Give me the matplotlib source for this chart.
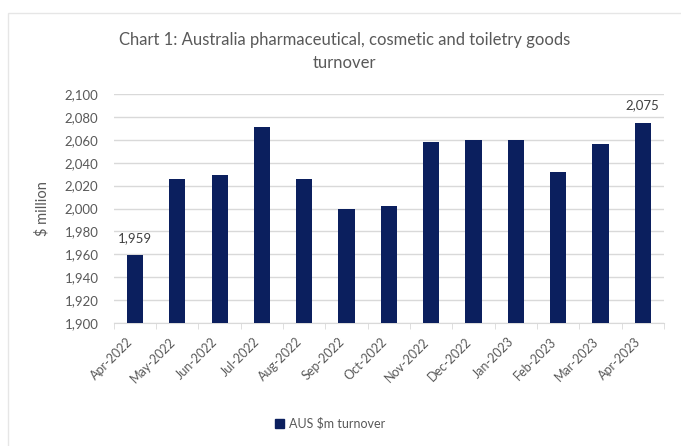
import numpy as np
import matplotlib.pyplot as plt
from matplotlib.ticker import FuncFormatter, FixedLocator
from matplotlib.patches import Rectangle
from matplotlib.transforms import ScaledTranslation

months = ['Apr-2022', 'May-2022', 'Jun-2022', 'Jul-2022', 'Aug-2022', 'Sep-2022',
          'Oct-2022', 'Nov-2022', 'Dec-2022', 'Jan-2023', 'Feb-2023', 'Mar-2023',
          'Apr-2023']
turnover = [1959, 2026, 2029, 2071, 2026, 2000, 2002, 2058, 2060, 2060, 2032, 2056, 2075]

navy = '#0b1f5e'
grey_text = '#595959'

plt.rcParams['font.family'] = ['Lato', 'DejaVu Sans']

fig = plt.figure(figsize=(6.81, 4.46), dpi=100)
fig.patches.append(Rectangle((0.012, -0.01), 1.0, 0.98, transform=fig.transFigure,
                             fill=False, edgecolor='#e6e6e6', linewidth=1.0))
ax = fig.add_axes([0.167, 0.276, 0.808, 0.513])

x = np.arange(len(months))
ax.bar(x, turnover, width=0.38, color=navy, zorder=3)

ax.set_ylim(1900, 2100)
ax.set_xlim(-0.5, len(months) - 0.5)
ax.set_yticks(np.arange(1900, 2101, 20))
ax.yaxis.set_major_formatter(FuncFormatter(lambda v, p: f'{int(v):,}'))
ax.grid(axis='y', color='#d9d9d9', linewidth=1.0, zorder=0)

ax.set_xticks(x)
ax.set_xticklabels(months, rotation=45, ha='right', rotation_mode='anchor')
ax.xaxis.set_minor_locator(FixedLocator(np.arange(-0.5, len(months), 1)))
ax.tick_params(axis='x', which='major', length=0, pad=8, labelsize=9, labelcolor=grey_text)
ax.tick_params(axis='x', which='minor', length=4, color='#d9d9d9', direction='out')
ax.tick_params(axis='y', length=0, labelsize=9.5, labelcolor=grey_text, pad=11)

# nudge the rotated month labels slightly left
shift = ScaledTranslation(-6 / 72, -1 / 72, fig.dpi_scale_trans)
for lbl in ax.get_xticklabels():
    lbl.set_transform(lbl.get_transform() + shift)

for s in ['top', 'right', 'left']:
    ax.spines[s].set_visible(False)
ax.spines['bottom'].set_color('#d9d9d9')

ax.set_ylabel('$ million', fontsize=10.5, color=grey_text)
ax.yaxis.set_label_coords(-0.116, 0.5)

# value labels on first and last bars
for i in (0, len(months) - 1):
    ax.annotate(f'{turnover[i]:,}', (x[i], turnover[i]), xytext=(0, 8),
                textcoords='offset points', ha='center', va='bottom',
                fontsize=9.5, color='#404040')

fig.text(0.506, 0.884, 'Chart 1: Australia pharmaceutical, cosmetic and toiletry goods\nturnover',
         ha='center', va='center', fontsize=12, color=grey_text, linespacing=1.5)

handle = Rectangle((0, 0), 1, 1, color=navy)
fig.legend([handle], ['AUS $m turnover'], loc='center', bbox_to_anchor=(0.485, 0.05),
           frameon=False, fontsize=9, handlelength=0.7, handleheight=0.7,
           handletextpad=0.4, labelcolor=grey_text)

fig.savefig('out.png', dpi=100)
